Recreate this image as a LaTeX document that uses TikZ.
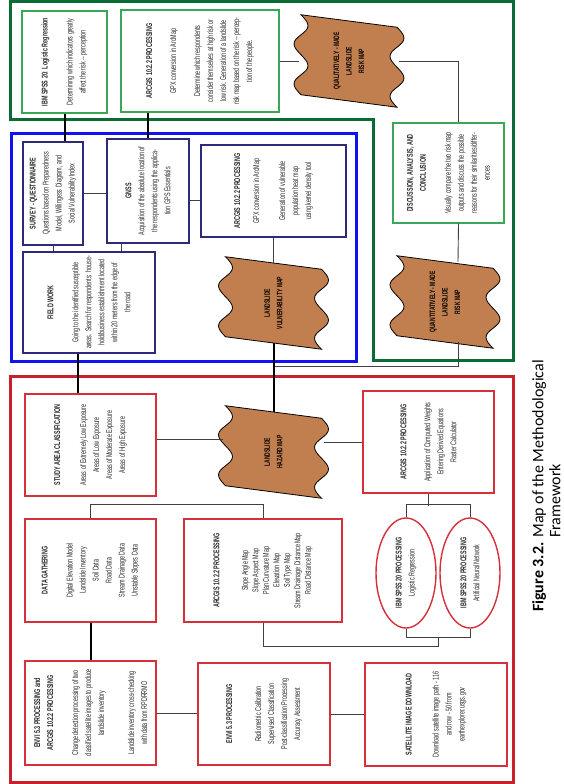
\documentclass[tikz,border=0pt]{standalone}
\usepackage{fontspec}
\setmainfont{Liberation Sans}
\newfontfamily\narrowfont[FakeStretch=0.64]{Liberation Sans}
\newfontfamily\calibrifont{Carlito}
\usetikzlibrary{shapes.geometric,calc}
\definecolor{frameGreen}{HTML}{0B6B35}
\definecolor{boxGreen}{HTML}{3AA757}
\definecolor{frameBlue}{HTML}{1212F0}
\definecolor{boxBlue}{HTML}{2E2A7A}
\definecolor{frameRed}{HTML}{C8202F}
\definecolor{boxRed}{HTML}{D6303B}
\definecolor{tapeBrown}{HTML}{C17E4E}
\definecolor{bodyGray}{HTML}{262626}

\newcommand{\hd}[1]{\textbf{#1}}
% wavy map symbol: name, x, y, text
\newcommand{\tapemap}[4]{%
  \begin{scope}[shift={(#2,#3)}, yslant=-0.13]
    \draw[tapeline] plot[smooth, samples=33, domain=0:1, variable=\x] ({-48+7*sin(720*\x)}, {-40+80*\x})
      -- plot[smooth, samples=33, domain=0:1, variable=\x] ({48+7*sin(720*(1-\x))}, {40-80*\x}) -- cycle;
  \end{scope}
  \node[mapnode] (#1) at (#2,#3) {#4};
}

\begin{document}
\begin{tikzpicture}[x=1pt, y=-1pt,
  box/.style={rotate=90, draw=#1, line width=1.4pt, fill=white, align=center, inner sep=1pt,
    font=\narrowfont\fontsize{8.4}{13}\selectfont, text=bodyGray},
  dims/.style 2 args={minimum height=#1, minimum width=#2},
  ellnode/.style={rotate=90, ellipse, draw=boxRed, line width=1.4pt, fill=white, align=center, inner sep=0pt,
    minimum width=110pt, minimum height=60pt, font=\narrowfont\fontsize{8.4}{13}\selectfont, text=bodyGray},
  mapnode/.style={rotate=90, align=center, inner sep=0pt, minimum width=80pt, minimum height=100pt,
    font=\narrowfont\bfseries\fontsize{7.8}{12.5}\selectfont},
  tapeline/.style={draw=black, line width=0.8pt, fill=tapeBrown},
  frame/.style={draw=#1, line width=3pt},
  link/.style={draw=black!75, line width=0.9pt},
  trunk/.style={draw=black, line width=2pt}
]
  \useasboundingbox (0,0) rectangle (564,784);

  % regions
  \draw[frame=frameGreen] (10,2) -- (513,2) -- (513,360) -- (373,360) -- (373,119) -- (10,119) -- cycle;
  \draw[frame=frameBlue] (11,133) rectangle (356,361);
  \draw[frame=frameRed] (10,376) rectangle (513,782);

  % risk part
  \node[box=boxGreen, dims={85pt}{102pt}] (spss) at (64.5,62) {\hd{IBM SPSS 20: Logistic Regression}\\[12pt]Determining which indicators greatly\\affect the risk -- perception};
  \node[box=boxGreen, dims={158pt}{102pt}] (gis3) at (200,61) {\hd{ARCGIS 10.2.2 PROCESSING}\\[11pt]GPX conversion in ArcMap\\[11pt]Determine which respondents\\consider themselves at high risk or\\low risk. Generation of a landslide\\risk map based on the risk -- percep-\\tion of the people.};
  \tapemap{qual}{349}{61}{QUALITATIVELY - MADE\\LANDSLIDE\\RISK MAP}
  \node[box=boxGreen, dims={111pt}{100pt}] (disc) at (448.5,173) {\hd{DISCUSSION, ANALYSIS, AND}\\\hd{CONCLUSION}\\[12pt]Visually compare the two risk map\\outputs and discuss the possible\\reasons for their similarities/differ-\\ences};
  \tapemap{quant}{445}{302}{QUANTITATIVELY - MADE\\LANDSLIDE\\RISK MAP}

  % vulnerability part
  \node[box=boxBlue, dims={60pt}{103pt}] (survey) at (53,193.5) {\hd{SURVEY - QUESTIONNAIRE}\\Questions based on Preparedness\\Model, Willingess Diagram, and\\Social Vulnerability Index};
  \node[box=boxBlue, dims={82pt}{104pt}] (gnss) at (148,191) {\hd{GNSS}\\Acquisition of the absolute location of\\the respondents using the applica-\\tion GPS Essentials};
  \node[box=boxBlue, dims={132pt}{101pt}] (field) at (89,302.5) {\hd{FIELD WORK}\\[12pt]Going to the identified susceptible\\areas. Search for respondents: house-\\hold/business establishment located\\within 20 meters from the edge of\\the road};
  \node[box=boxBlue, dims={145pt}{92pt}] (gis2) at (273.5,191) {\hd{ARCGIS 10.2.2 PROCESSING}\\[6pt]GPX conversion in ArcMap\\[13pt]Generation of vulnerable\\population heat map\\using kernel density tool};
  \tapemap{vuln}{273.5}{303}{LANDSLIDE\\VULNERABILITY MAP}

  % hazard part
  \node[box=boxRed, dims={131pt}{102pt}] (study) at (90.5,445) {\hd{STUDY AREA CLASSIFICATION}\\[13pt]Areas of Extremely Low Exposure\\Areas of Low Exposure\\Areas of Moderate Exposure\\Areas of High Exposure};
  \tapemap{haz}{273.5}{452}{LANDSLIDE\\HAZARD MAP}
  \node[box=boxRed, dims={131pt}{102pt}] (wts) at (428.5,442) {\hd{ARCGIS 10.2.2 PROCESSING}\\[11pt]Application of Computed Weights\\Entering Derived Equations\\Raster Calculator};
  \node[box=boxRed, dims={131pt}{103pt}] (data) at (90.5,570.5) {\hd{DATA GATHERING}\\[12pt]Digital Elevation Model\\Landslide Inventory\\Soil Data\\Road Data\\Stream Drainage Data\\Unstable Slopes Data};
  \node[box=boxRed, dims={158pt}{103pt}, font=\narrowfont\fontsize{8.4}{10.5}\selectfont] (gis1) at (263,570.5) {\hd{ARCGIS 10.2.2 PROCESSING}\\[18pt]Slope Angle Map\\Slope Aspect Map\\Plan Curvature Map\\Elevation Map\\Soil Type Map\\Stream Drainage Distance Map\\Road Distance Map};
  \node[ellnode] (ell1) at (406,573) {\hd{IBM SPSS 20 PROCESSING}\\Logistic Regression};
  \node[ellnode] (ell2) at (470,573) {\hd{IBM SPSS 20 PROCESSING}\\Artificial Neural Network};
  \node[box=boxRed, dims={131pt}{104pt}] (envarc) at (90.5,713) {\hd{ENVI 5.3 PROCESSING and}\\\hd{ARCGIS 10.2.2 PROCESSING}\\[12pt]Change detection processing of two\\classified satellite images to produce\\landslide inventory\\[17pt]Landslide inventory cross-checking\\with data from RPDRRMO};
  \node[box=boxRed, dims={132pt}{102pt}] (envi) at (264,714) {\hd{ENVI 5.3 PROCESSING}\\[16pt]Radiometric Calibration\\Supervised Classification\\Post-classification Processing\\Accuracy Assessment};
  \node[box=boxRed, dims={142pt}{103pt}] (sat) at (436,714.5) {\hd{SATELLITE IMAGE DOWNLOAD}\\[14pt]Download satellite image path - 116\\and row - 50 from\\earthexplorer.usgs.gov};

  \node[rotate=90, inner sep=0pt, font=\calibrifont\fontsize{16}{17}\selectfont] (caption) at (548.5,486)
    {\begin{tabular}{@{}l@{ }l@{}}\textbf{Figure 3.2.} & Map of the Methodological\\ & Framework\end{tabular}};

  % connectors
  \coordinate (jq) at (273.5,366);
  \draw[trunk] (spss.west) -- (spss.west |- survey.east);
  \draw[trunk] (gnss.east) -- (gnss.east |- gis3.west);
  \draw[link] (gis3.south) -- (gis3.south -| qual.north);
  \draw[link] (qual.south) -| ($(disc.east)+(10,0)$);
  \draw[link] ($(disc.west)+(10,0)$) -- ($(quant.east)+(13,0)$);
  \draw[link] ($(quant.west)+(13,0)$) |- (jq);
  \draw[link] (survey.south) -- (survey.south -| gnss.north);
  \draw[link] ($(gnss.south)+(0,9)$) coordinate (gs) -- (gs -| gis2.north);
  \draw[link] (survey.west) -- (survey.west |- field.east);
  \draw[link] ($(gnss.west)+(-27,0)$) coordinate (gw) -- (gw |- field.east);
  \draw[trunk] ($(field.west)+(-11,0)$) coordinate (fw) -- (fw |- study.east);
  \draw[link] (gis2) -- (vuln);
  \draw[trunk] (vuln) -- (haz);
  \draw[link] ($(study.south)+(0,-6)$) coordinate (ss) -- (ss -| haz.north);
  \draw[link] (wts.north) -- (wts.north -| haz.south);
  \draw[link] (data.east) -- ++(0,-14) -| (gis1.east);
  \draw[trunk] (data.west) -- (envarc.east);
  \draw[link] (envarc.south) -- (envarc.south -| envi.north);
  \draw[link] (envi.south) -- (envi.south -| sat.north);
  \draw[link] (ell1.east) -- ++(0,-13) -| (ell2.east);
  \draw[link] (wts.west) -- ++(0,12);
  \draw[link] (ell1.west) -- ++(0,9) -| (ell2.west);
  \draw[link] (gis1.west) |- ($(ell1.west)!.5!(ell2.west)+(0,18)$) -- ++(0,-9);
\end{tikzpicture}
\end{document}
